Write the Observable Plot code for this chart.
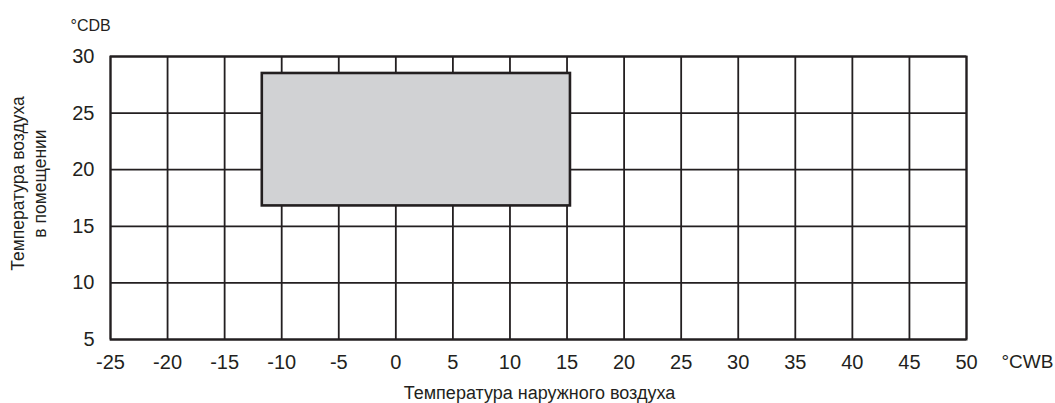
<!DOCTYPE html>
<html>
<head>
<meta charset="utf-8">
<script src="https://cdn.jsdelivr.net/npm/d3@7"></script>
<script src="https://cdn.jsdelivr.net/npm/@observablehq/plot@0.6"></script>
<style>
  html, body { margin: 0; padding: 0; background: #fff; }
  #chart svg { display: block; }
</style>
</head>
<body>
<div id="chart"></div>
<script>
// Tick values
const xTicks = [-25, -20, -15, -10, -5, 0, 5, 10, 15, 20, 25, 30, 35, 40, 45, 50];
const yTicks = [5, 10, 15, 20, 25, 30];
// Operating zone: outdoor (°CWB) and indoor (°CDB) limits
const zoneOutdoor = [-11.7, 15.3];
const zoneIndoor = [16.8, 28.5];
// Texts
const xUnit = "°CWB";
const yUnit = "°CDB";
const xTitle = "Температура наружного воздуха";
const yTitle = "Температура воздуха\nв помещении";

const zone = [{x1: zoneOutdoor[0], x2: zoneOutdoor[1], y1: zoneIndoor[0], y2: zoneIndoor[1]}];
const ink = "#231f20";

const chart = Plot.plot({
  width: 1055,
  height: 403,
  marginTop: 56,
  marginBottom: 64,
  marginLeft: 110,
  marginRight: 89,
  style: {fontFamily: "'Liberation Sans', Arial, sans-serif", fontSize: "20px", color: ink, background: "#fff", overflow: "visible"},
  x: {domain: [-25, 50]},
  y: {domain: [5, 30]},
  marks: [
    Plot.ruleX(xTicks, {stroke: ink, strokeWidth: 1.8}),
    Plot.ruleY(yTicks, {stroke: ink, strokeWidth: 1.8}),
    Plot.rect(zone, {x1: "x1", x2: "x2", y1: "y1", y2: "y2", fill: "#d1d2d4", stroke: ink, strokeWidth: 2.6}),
    Plot.frame({stroke: ink, strokeWidth: 2}),
    Plot.axisX({ticks: xTicks, tickSize: 0, tickPadding: 15, fontSize: 20, label: null, tickFormat: d => String(d).replace("−", "-")}),
    Plot.axisY({ticks: yTicks, tickSize: 0, tickPadding: 16, fontSize: 20, label: null}),
    Plot.text([xUnit], {text: d => d, frameAnchor: "bottom-right", dx: 35, dy: 22, textAnchor: "start", lineAnchor: "middle", fontSize: 19, fill: ink}),
    Plot.text([yUnit], {text: d => d, frameAnchor: "top-left", dx: -40, dy: -31, textAnchor: "start", lineAnchor: "middle", fontSize: 16, fill: ink}),
    Plot.text([xTitle], {text: d => d, frameAnchor: "bottom", dx: 1, dy: 54, textAnchor: "middle", lineAnchor: "middle", fontSize: 18, fill: ink}),
    Plot.text([yTitle], {text: d => d, frameAnchor: "left", rotate: -90, dx: -82.5, dy: -14.5, textAnchor: "middle", lineAnchor: "middle", lineHeight: 1.25, fontSize: 17.5, fill: ink})
  ]
});
document.getElementById("chart").append(chart);
</script>
</body>
</html>
